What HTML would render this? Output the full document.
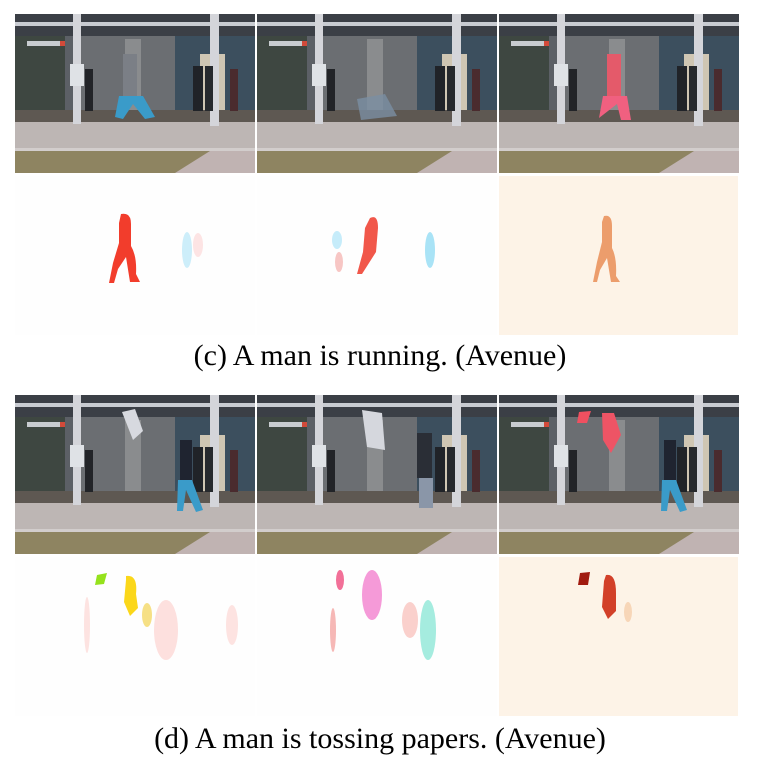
<!DOCTYPE html>
<html><head><meta charset="utf-8"><style>
html,body{margin:0;padding:0;background:#fff;width:760px;height:761px;overflow:hidden}
svg{position:absolute;left:0;top:0}
.cap{position:absolute;left:0;width:760px;text-align:center;font-family:"Liberation Serif",serif;font-size:30px;line-height:34px;color:#000}
</style></head><body>
<svg width="760" height="761" viewBox="0 0 760 761">
<defs>
<g id="scene">
<rect x="0" y="0" width="240" height="159" fill="#5c6066"/>
<rect x="0" y="0" width="240" height="22" fill="#3b3f46"/>
<rect x="0" y="8" width="240" height="4" fill="#c9ccd2"/>
<rect x="0" y="22" width="50" height="85" fill="#3e4741"/>
<rect x="60" y="22" width="100" height="85" fill="#6b6e72"/>
<rect x="110" y="25" width="16" height="80" fill="#8a8c8e"/>
<rect x="160" y="22" width="80" height="85" fill="#3c4f5e"/>
<rect x="185" y="40" width="25" height="65" fill="#cfc6b3"/>
<rect x="0" y="96" width="240" height="12" fill="#5e5852"/>
<rect x="0" y="108" width="240" height="30" fill="#bdb6b4"/>
<rect x="0" y="134" width="240" height="3" fill="#d2cdcc"/>
<rect x="0" y="137" width="240" height="22" fill="#c0b3b2"/>
<polygon points="0,137 195,137 160,159 0,159" fill="#8e8461"/>
<rect x="58" y="0" width="8" height="110" fill="#d4d5da"/>
<rect x="195" y="0" width="9" height="112" fill="#d4d5da"/>
<rect x="55" y="50" width="14" height="22" fill="#dfe2e6"/>
<rect x="12" y="27" width="35" height="5" fill="#c8ccd0"/>
<rect x="45" y="27" width="5" height="5" fill="#d24a3a"/>
<rect x="70" y="55" width="8" height="42" fill="#222428"/>
<rect x="178" y="52" width="10" height="45" fill="#202328"/>
<rect x="190" y="52" width="8" height="45" fill="#26292d"/>
<rect x="215" y="55" width="8" height="42" fill="#4a2b2e"/>
</g>
</defs>
<g transform="translate(15,14)"><use href="#scene"/>
<rect x="108" y="40" width="14" height="42" fill="#7b7f86"/><polygon points="104,82 128,82 140,103 130,105 118,90 108,105 100,103" fill="#3a9bc9"/></g>
<g transform="translate(257,14)"><use href="#scene"/>
<polygon points="100,85 128,80 140,102 104,106" fill="#7b8fa3" opacity="0.8"/></g>
<g transform="translate(499,14)"><use href="#scene"/>
<rect x="108" y="40" width="14" height="42" fill="#e45a6a"/><polygon points="104,82 128,82 132,106 122,106 118,90 100,104" fill="#f06080"/></g>
<rect x="15" y="176" width="240" height="159" fill="#fefefe"/>
<path d="M121,214 q10,-2 10,10 l0,22 q6,10 5,28 l4,8 -10,0 -4,-25 -8,12 -4,14 -5,0 4,-20 6,-20 0,-20z" fill="#f23d2c"/>
<ellipse cx="187" cy="250" rx="5" ry="18" fill="#cdeefa"/>
<ellipse cx="198" cy="245" rx="5" ry="12" fill="#fde4e4"/>
<rect x="257" y="176" width="240" height="159" fill="#fefefe"/>
<path d="M370,218 q8,-4 8,10 l-2,24 -14,22 -5,0 6,-22 2,-24z" fill="#f1574a"/>
<ellipse cx="337" cy="240" rx="5" ry="9" fill="#c6ecfa"/>
<ellipse cx="339" cy="262" rx="4" ry="10" fill="#f7c6c4"/>
<ellipse cx="430" cy="250" rx="5" ry="18" fill="#a9e3f6"/>
<rect x="499" y="176" width="239" height="159" fill="#fdf3e7"/>
<path d="M604,216 q8,-2 8,10 l0,22 q5,10 4,28 l4,6 -9,0 -4,-24 -7,12 -3,12 -4,0 4,-20 5,-20 0,-20z" fill="#ec9d6c"/>
<g transform="translate(15,395)"><use href="#scene"/>
<polygon points="107,17 120,14 128,36 118,45" fill="#d7d9df"/><rect x="165" y="45" width="12" height="40" fill="#1f2430"/><polygon points="163,85 177,85 188,115 181,117 171,95 168,116 162,116" fill="#3a9bc9"/></g>
<g transform="translate(257,395)"><use href="#scene"/>
<polygon points="105,15 125,18 128,55 110,52" fill="#d5d7dd"/><rect x="160" y="38" width="15" height="45" fill="#2a2e36"/><rect x="162" y="83" width="14" height="30" fill="#8a96a8"/></g>
<g transform="translate(499,395)"><use href="#scene"/>
<polygon points="80,17 92,16 88,28 78,28" fill="#ef5060"/><polygon points="103,18 115,18 122,40 112,58 104,45" fill="#ee5465"/><rect x="165" y="45" width="12" height="40" fill="#1f2430"/><polygon points="163,85 177,85 188,115 181,117 171,95 168,116 162,116" fill="#3a9bc9"/></g>
<rect x="15" y="557" width="240" height="159" fill="#fefefe"/>
<polygon points="97,575 107,573 104,584 95,585" fill="#95e21c"/>
<path d="M126,576 q12,-2 10,18 l2,14 -8,8 -6,-14 2,-22z" fill="#fbd71a"/>
<ellipse cx="147" cy="615" rx="5" ry="12" fill="#f6e085"/>
<ellipse cx="166" cy="630" rx="12" ry="30" fill="#fde0de"/>
<ellipse cx="232" cy="625" rx="6" ry="20" fill="#fde3e1"/>
<ellipse cx="87" cy="625" rx="3" ry="28" fill="#fde3e1"/>
<rect x="257" y="557" width="240" height="159" fill="#fefefe"/>
<ellipse cx="372" cy="595" rx="10" ry="25" fill="#f59ad8"/>
<ellipse cx="340" cy="580" rx="4" ry="10" fill="#f27098"/>
<ellipse cx="428" cy="630" rx="8" ry="30" fill="#a5ecdf"/>
<ellipse cx="410" cy="620" rx="8" ry="18" fill="#fad0cc"/>
<ellipse cx="333" cy="630" rx="3" ry="22" fill="#f6b8b6"/>
<rect x="499" y="557" width="239" height="159" fill="#fdf3e7"/>
<polygon points="580,573 590,572 588,585 578,585" fill="#a11a0f"/>
<path d="M606,575 q10,-2 10,18 l0,18 -8,8 -6,-12 2,-26z" fill="#d24029"/>
<ellipse cx="628" cy="612" rx="4" ry="10" fill="#f7d6b8"/>
</svg>
<div class="cap" style="top:339px">(c) A man is running. (Avenue)</div>
<div class="cap" style="top:722px">(d) A man is tossing papers. (Avenue)</div>
</body></html>
